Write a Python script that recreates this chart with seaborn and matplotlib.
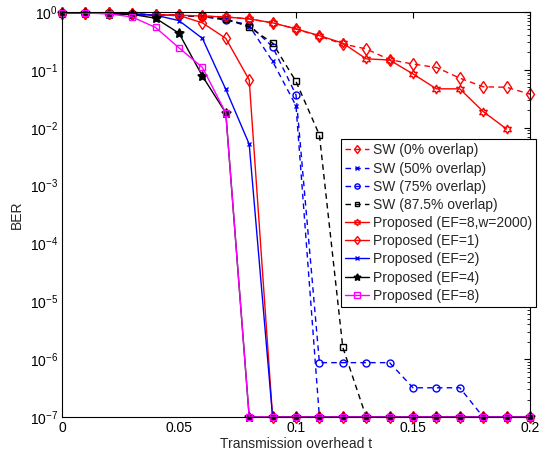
import numpy as np
import pandas as pd
import matplotlib
matplotlib.use("Agg")
import matplotlib.pyplot as plt
import seaborn as sns
from matplotlib.ticker import LogLocator, FixedLocator, NullFormatter, FixedFormatter

# ---------------- data ----------------
t = [0.00, 0.01, 0.02, 0.03, 0.04, 0.05, 0.06, 0.07, 0.08, 0.09, 0.10,
     0.11, 0.12, 0.13, 0.14, 0.15, 0.16, 0.17, 0.18, 0.19, 0.20]

sw_0 = [0.97, 0.96, 0.95, 0.92, 0.89, 0.88, 0.85, 0.82, 0.76, 0.65, 0.51,
        0.38, 0.28, 0.23, 0.15, 0.126, 0.11, 0.072, 0.051, 0.05, 0.038]
sw_50 = [0.97, 0.96, 0.95, 0.92, 0.89, 0.87, 0.84, 0.75, 0.58, 0.14, 0.024,
         1e-7, 1e-7, 1e-7, 1e-7, 1e-7, 1e-7, 1e-7, 1e-7, 1e-7, 1e-7]
sw_75 = [0.97, 0.96, 0.95, 0.92, 0.89, 0.87, 0.84, 0.72, 0.60, 0.25, 0.037,
         8.7e-7, 8.7e-7, 8.7e-7, 8.7e-7, 3.2e-7, 3.2e-7, 3.2e-7, 1e-7, 1e-7, 1e-7]
sw_875 = [0.97, 0.96, 0.95, 0.92, 0.89, 0.87, 0.84, 0.76, 0.55, 0.29, 0.063,
          0.0075, 1.6e-6, 1e-7, 1e-7, 1e-7, 1e-7, 1e-7, 1e-7, 1e-7, 1e-7]
prop_w2000 = [0.97, 0.96, 0.95, 0.92, 0.89, 0.88, 0.85, 0.82, 0.76, 0.65, 0.51,
              0.39, 0.29, 0.155, 0.148, 0.085, 0.047, 0.047, 0.019, 0.0095, None]
prop_ef1 = [0.97, 0.96, 0.95, 0.92, 0.89, 0.87, 0.65, 0.35, 0.067, 1e-7, 1e-7,
            1e-7, 1e-7, 1e-7, 1e-7, 1e-7, 1e-7, 1e-7, 1e-7, 1e-7, 1e-7]
prop_ef2 = [0.97, 0.96, 0.95, 0.92, 0.88, 0.71, 0.35, 0.046, 0.0052, 1e-7, 1e-7,
            1e-7, 1e-7, 1e-7, 1e-7, 1e-7, 1e-7, 1e-7, 1e-7, 1e-7, 1e-7]
prop_ef4 = [0.97, 0.96, 0.94, 0.91, 0.78, 0.43, 0.078, 0.018, 1e-7, 1e-7, 1e-7,
            1e-7, 1e-7, 1e-7, 1e-7, 1e-7, 1e-7, 1e-7, 1e-7, 1e-7, 1e-7]
prop_ef8 = [0.97, 0.96, 0.93, 0.82, 0.54, 0.24, 0.11, 0.018, 1e-7, 1e-7, 1e-7,
            1e-7, 1e-7, 1e-7, 1e-7, 1e-7, 1e-7, 1e-7, 1e-7, 1e-7, 1e-7]

labels = ["SW (0% overlap)", "SW (50% overlap)", "SW (75% overlap)",
          "SW (87.5% overlap)", "Proposed (EF=8,w=2000)", "Proposed (EF=1)",
          "Proposed (EF=2)", "Proposed (EF=4)", "Proposed (EF=8)"]
series = [sw_0, sw_50, sw_75, sw_875, prop_w2000, prop_ef1, prop_ef2, prop_ef4, prop_ef8]

x_ticks = [0, 0.05, 0.1, 0.15, 0.2]
x_ticklabels = ["0", "0.05", "0.1", "0.15", "0.2"]
y_ticks = [1e-7, 1e-6, 1e-5, 1e-4, 1e-3, 1e-2, 1e-1, 1e0]
y_ticklabels = [r"$10^{-7}$", r"$10^{-6}$", r"$10^{-5}$", r"$10^{-4}$",
                r"$10^{-3}$", r"$10^{-2}$", r"$10^{-1}$", r"$10^{0}$"]

# ---------------- styles ----------------
styles = [
    dict(color="#ff0000", marker="d", ls="--", mfc="none", ms=6),
    dict(color="#0000ff", marker="x", ls="--", mfc="none", ms=3.5),
    dict(color="#0000ff", marker="o", ls="--", mfc="none", ms=5),
    dict(color="#000000", marker="s", ls="--", mfc="none", ms=4.2),
    dict(color="#ff0000", marker=(6, 1, 0), ls="-", mfc="none", ms=6.5),
    dict(color="#ff0000", marker="d", ls="-", mfc="none", ms=6),
    dict(color="#0000ff", marker="x", ls="-", mfc="none", ms=3.5),
    dict(color="#000000", marker=(5, 1, 0), ls="-", mfc="#000000", ms=7),
    dict(color="#ff00ff", marker="s", ls="-", mfc="none", ms=5),
]

sns.set_style("white")
plt.rcParams["font.family"] = ["Liberation Sans", "DejaVu Sans"]
plt.rcParams["mathtext.default"] = "regular"

fig = plt.figure(figsize=(5.51, 4.55), dpi=100)
ax = fig.add_axes([62 / 551, 1 - 417 / 455, (530 - 62) / 551, (417 - 12) / 455])

for lab, vals, st in zip(labels, series, styles):
    df = pd.DataFrame({"t": t, "BER": vals}).dropna()
    sns.lineplot(data=df, x="t", y="BER", ax=ax, color=st["color"],
                 marker=st["marker"], linewidth=1.0,
                 markersize=st["ms"], markerfacecolor=st["mfc"],
                 markeredgecolor=st["color"], markeredgewidth=1.0,
                 label=lab, clip_on=False)
    line = ax.lines[-1]
    if st["ls"] == "--":
        line.set_dashes((4, 3))

ax.set_yscale("log")
ax.set_xlim(0, 0.2)
ax.set_ylim(1e-7, 1)
ax.xaxis.set_major_locator(FixedLocator(x_ticks))
ax.xaxis.set_major_formatter(FixedFormatter(x_ticklabels))
ax.yaxis.set_major_locator(FixedLocator(y_ticks))
ax.yaxis.set_major_formatter(FixedFormatter(y_ticklabels))
ax.yaxis.set_minor_locator(LogLocator(base=10, subs=np.arange(2, 10), numticks=20))
ax.yaxis.set_minor_formatter(NullFormatter())

ax.tick_params(axis="both", which="both", direction="in", top=True, right=True,
               labelsize=10, colors="#000000", pad=3)
ax.tick_params(which="major", length=4, width=0.8)
ax.tick_params(which="minor", length=2, width=0.6)
for s in ax.spines.values():
    s.set_color("#000000")
    s.set_linewidth(0.8)

ax.set_xlabel("Transmission overhead t", fontsize=10, labelpad=1)
ax.set_ylabel("BER", fontsize=10, labelpad=4)

leg = ax.legend(loc="upper left", bbox_to_anchor=(0.596, 0.686), fontsize=10,
                frameon=True, fancybox=False, edgecolor="#000000", framealpha=1,
                handlelength=1.7, handletextpad=0.3, borderpad=0.3,
                labelspacing=0.3, borderaxespad=0, markerscale=0.75)
leg.get_frame().set_linewidth(0.8)

fig.savefig("out.png", dpi=100)
